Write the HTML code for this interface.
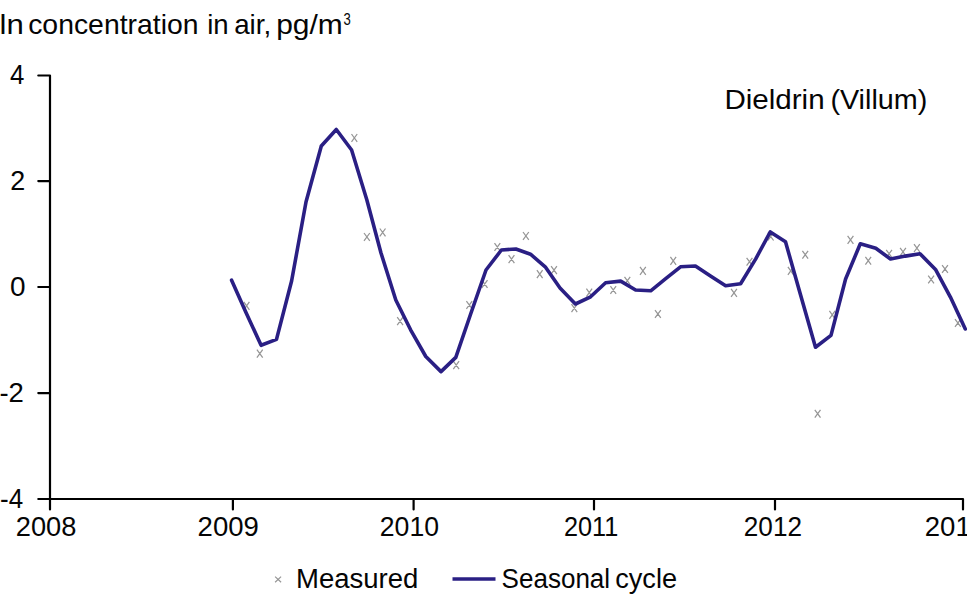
<!DOCTYPE html>
<html><head><meta charset="utf-8"><style>
html,body{margin:0;padding:0;background:#fff;}
body{width:967px;height:595px;overflow:hidden;}
svg{display:block;}
text{font-family:"Liberation Sans", sans-serif;fill:#050505;}
</style></head><body>
<svg width="967" height="595" viewBox="0 0 967 595">
<g fill="none" stroke="#000" stroke-width="2.2" stroke-linecap="round" stroke-linejoin="round">
<path d="M38.3 75.5H50V509.5"/>
<path d="M38.3 181.1H50M38.3 287H50M38.3 393.1H50M38.3 499H963V509.5"/>
<path d="M232.9 499V509.5M413.6 499V509.5M594 499V509.5M775 499V509.5"/>
</g>
<path d="M243.8 301.9L249.4 309.8M249.4 301.9L243.8 309.8M256.9 349.7L262.7 357.6M262.7 349.7L256.9 357.6M351.5 134.0L357.2 141.8M357.2 134.0L351.5 141.8M364.0 233.0L369.8 240.8M369.8 233.0L364.0 240.8M379.8 228.5L385.5 236.3M385.5 228.5L379.8 236.3M397.2 317.2L403.0 325.1M403.0 317.2L397.2 325.1M453.3 361.2L459.1 369.1M459.1 361.2L453.3 369.1M466.4 301.1L472.2 308.9M472.2 301.1L466.4 308.9M481.8 280.1L487.5 287.9M487.5 280.1L481.8 287.9M494.5 243.1L500.2 250.9M500.2 243.1L494.5 250.9M508.6 255.2L514.4 263.1M514.4 255.2L508.6 263.1M523.0 232.0L528.8 239.8M528.8 232.0L523.0 239.8M536.9 270.2L542.6 278.1M542.6 270.2L536.9 278.1M551.1 266.2L556.9 274.1M556.9 266.2L551.1 274.1M571.5 304.2L577.2 312.1M577.2 304.2L571.5 312.1M586.4 288.7L592.1 296.6M592.1 288.7L586.4 296.6M610.4 286.1L616.1 293.9M616.1 286.1L610.4 293.9M624.5 276.8L630.2 284.6M630.2 276.8L624.5 284.6M640.0 266.9L645.8 274.8M645.8 266.9L640.0 274.8M655.0 310.1L660.8 317.9M660.8 310.1L655.0 317.9M670.4 256.9L676.1 264.8M676.1 256.9L670.4 264.8M731.1 288.9L736.9 296.8M736.9 288.9L731.1 296.8M746.6 257.8L752.4 265.6M752.4 257.8L746.6 265.6M767.9 232.7L773.6 240.5M773.6 232.7L767.9 240.5M787.9 266.9L793.6 274.8M793.6 266.9L787.9 274.8M802.4 250.8L808.1 258.6M808.1 250.8L802.4 258.6M814.8 409.8L820.5 417.6M820.5 409.8L814.8 417.6M829.4 310.9L835.1 318.8M835.1 310.9L829.4 318.8M847.6 235.9L853.4 243.8M853.4 235.9L847.6 243.8M865.4 256.8L871.1 264.6M871.1 256.8L865.4 264.6M886.2 249.8L892.0 257.6M892.0 249.8L886.2 257.6M900.1 247.9L905.9 255.8M905.9 247.9L900.1 255.8M914.0 244.2L919.8 252.0M919.8 244.2L914.0 252.0M928.2 275.6L934.0 283.4M934.0 275.6L928.2 283.4M942.1 265.1L947.9 272.9M947.9 265.1L942.1 272.9M955.0 319.1L960.8 326.9M960.8 319.1L955.0 326.9" fill="none" stroke="#969696" stroke-width="1.25"/>
<polyline points="231.6,280.2 246.2,313.0 261.1,345.3 276.5,339.4 291.6,281.0 306.0,202.0 321.3,146.0 336.3,129.5 351.6,150.0 366.8,199.8 381.0,253.0 395.8,300.0 410.6,329.8 425.8,356.5 441.0,371.6 455.8,357.4 471.0,313.0 486.0,270.0 501.4,250.0 515.9,249.0 530.5,254.2 545.2,266.8 560.0,288.0 575.4,304.0 590.6,296.8 605.6,282.8 620.7,281.1 635.6,290.0 650.7,290.8 665.7,278.7 680.5,266.8 695.4,266.0 710.5,276.1 725.6,285.8 740.6,283.8 755.6,259.1 770.3,231.9 785.5,241.8 800.3,294.0 815.5,347.2 831.0,335.4 845.6,279.0 860.3,243.8 875.8,248.3 890.5,259.0 905.3,256.1 920.0,253.7 935.5,269.4 950.4,297.1 965.3,329.0" fill="none" stroke="#2a1f84" stroke-width="3.6" stroke-linejoin="round" stroke-linecap="round"/>
<path d="M275.1 576.6L281.1 582.2M281.1 576.6L275.1 582.2" fill="none" stroke="#969696" stroke-width="1.2"/>
<path d="M452.5 579H495.5" stroke="#2a1f84" stroke-width="3.6"/>
<text x="-0.40" y="33.8" font-size="27.6" textLength="24.27" lengthAdjust="spacingAndGlyphs">ln</text>
<text x="28.20" y="33.8" font-size="27.6" textLength="170.34" lengthAdjust="spacingAndGlyphs">concentration</text>
<text x="207.20" y="33.8" font-size="27.6" textLength="21.47" lengthAdjust="spacingAndGlyphs">in</text>
<text x="234.20" y="33.8" font-size="27.6" textLength="37.03" lengthAdjust="spacingAndGlyphs">air,</text>
<text x="276.20" y="33.8" font-size="27.6" textLength="66.58" lengthAdjust="spacingAndGlyphs">pg/m</text>
<text x="343.60" y="24.9" font-size="16" textLength="7.29" lengthAdjust="spacingAndGlyphs">3</text>
<text x="724.40" y="108.9" font-size="28.3" textLength="100.22" lengthAdjust="spacingAndGlyphs">Dieldrin</text>
<text x="830.40" y="108.9" font-size="28.3" textLength="96.93" lengthAdjust="spacingAndGlyphs">(Villum)</text>
<text x="296.00" y="587.6" font-size="27.0" textLength="122.42" lengthAdjust="spacingAndGlyphs">Measured</text>
<text x="501.60" y="587.6" font-size="27.0" textLength="108.54" lengthAdjust="spacingAndGlyphs">Seasonal</text>
<text x="615.20" y="587.6" font-size="27.0" textLength="61.85" lengthAdjust="spacingAndGlyphs">cycle</text>
<text x="10.00" y="83.9" font-size="27.3" textLength="14.36" lengthAdjust="spacingAndGlyphs">4</text>
<text x="10.20" y="189.7" font-size="27.3" textLength="14.97" lengthAdjust="spacingAndGlyphs">2</text>
<text x="10.00" y="295.5" font-size="27.3" textLength="15.56" lengthAdjust="spacingAndGlyphs">0</text>
<text x="-0.60" y="401.6" font-size="27.3" textLength="24.48" lengthAdjust="spacingAndGlyphs">-2</text>
<text x="0.00" y="507.6" font-size="27.3" textLength="23.11" lengthAdjust="spacingAndGlyphs">-4</text>
<text x="15.80" y="535.6" font-size="27.0" textLength="60.62" lengthAdjust="spacingAndGlyphs">2008</text>
<text x="197.60" y="535.6" font-size="27.0" textLength="61.24" lengthAdjust="spacingAndGlyphs">2009</text>
<text x="379.80" y="535.6" font-size="27.0" textLength="59.21" lengthAdjust="spacingAndGlyphs">2010</text>
<text x="564.00" y="535.6" font-size="27.0" textLength="54.30" lengthAdjust="spacingAndGlyphs">2011</text>
<text x="743.80" y="535.6" font-size="27.0" textLength="58.19" lengthAdjust="spacingAndGlyphs">2012</text>
<text x="924.80" y="535.6" font-size="27.0" textLength="61.24" lengthAdjust="spacingAndGlyphs">2013</text>
</svg>
</body></html>
